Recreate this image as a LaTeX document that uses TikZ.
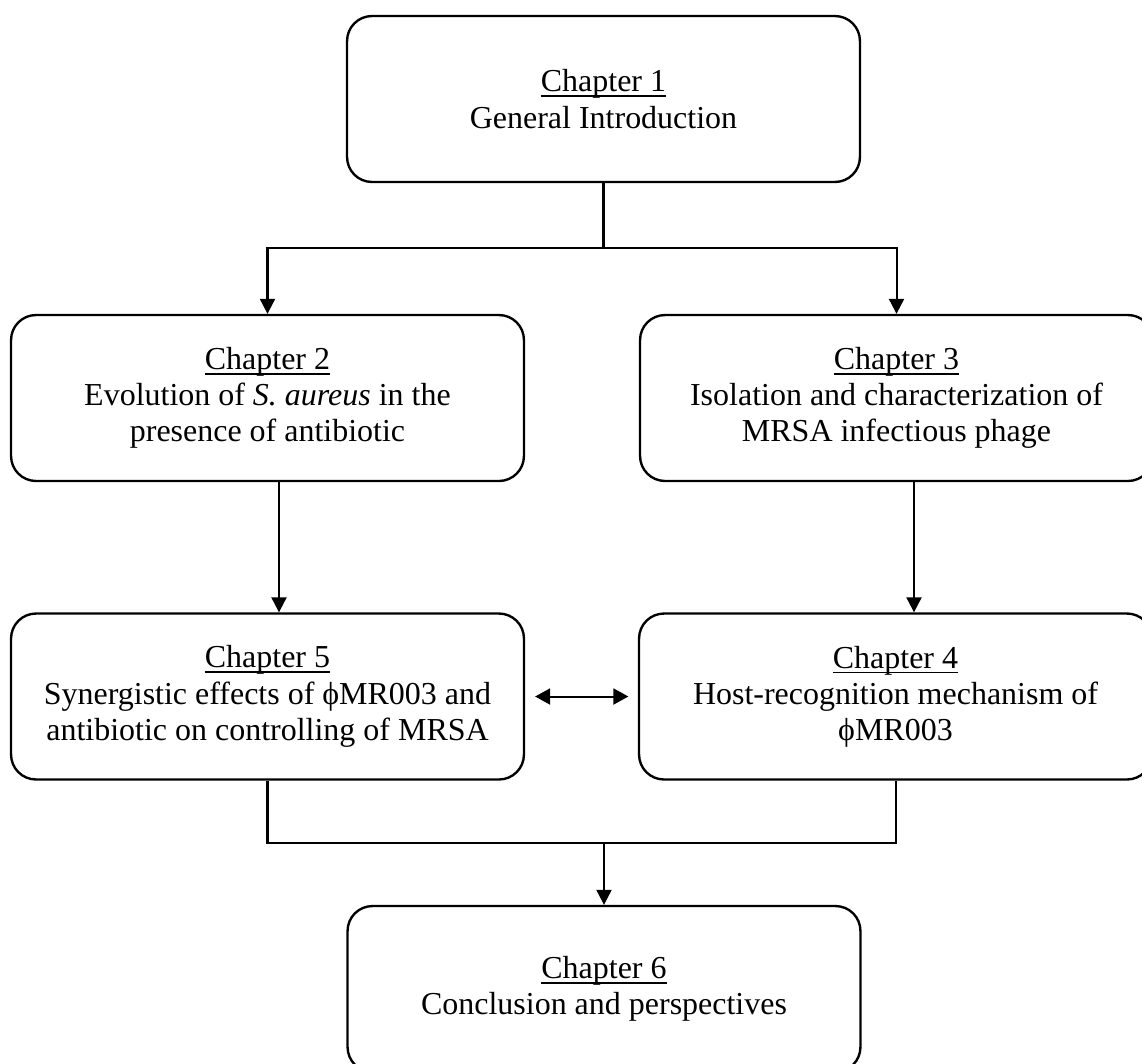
\documentclass[tikz,border=0pt]{standalone}
\usepackage{fontspec}
\setmainfont{Liberation Serif}
\usetikzlibrary{arrows.meta}
\newcommand{\chapline}[1]{\setbox0\hbox{#1}\rlap{\rule[-0.17em]{\wd0}{0.06em}}\box0}
\begin{document}
\begin{tikzpicture}[
    x=0.02cm,y=-0.02cm,
    chapbox/.style={draw,line width=1.35pt,rounded corners=0.5cm,align=center,
        minimum width=10.26cm,minimum height=3.32cm,inner sep=0pt,
        font=\fontsize{18.2}{20.6}\selectfont},
    link/.style={line width=1.15pt},
    arr/.style={link,-{Triangle[length=0.3cm,width=0.3cm]}},
    dblarr/.style={link,{Triangle[length=0.3cm,width=0.32cm]}-{Triangle[length=0.3cm,width=0.32cm]}}
]
\useasboundingbox (0,0) rectangle (1142,1063);
\clip (0,0) rectangle (1142,1063);
\node[chapbox] (ch1) at (603.5,99) {\chapline{Chapter 1}\\General Introduction};
\node[chapbox] (ch2) at (267.5,398) {\chapline{Chapter 2}\\Evolution of \textit{S. aureus} in the\\presence of antibiotic};
\node[chapbox] (ch3) at (896.5,398) {\chapline{Chapter 3}\\Isolation and characterization of\\MRSA infectious phage};
\node[chapbox] (ch5) at (267.5,696.5) {\chapline{Chapter 5}\\Synergistic effects of ϕMR003 and\\antibiotic on controlling of MRSA};
\node[chapbox] (ch4) at (895.5,696.5) {\chapline{Chapter 4}\\Host-recognition mechanism of\\ϕMR003};
\node[chapbox] (ch6) at (604,989) {\chapline{Chapter 6}\\Conclusion and perspectives};
\coordinate (split) at (603.5,248);
\coordinate (merge) at (604,843);
\draw[link] (ch1.south) -- (split);
\draw[arr] (split) -| (ch2.north);
\draw[arr] (split) -| (ch3.north);
\draw[arr] ([xshift=0.23cm]ch2.south) -- ([xshift=0.23cm]ch2.south |- ch5.north);
\draw[arr] ([xshift=0.35cm]ch3.south) -- ([xshift=0.35cm]ch3.south |- ch4.north);
\draw[dblarr,shorten <=0.2cm,shorten >=0.19cm] (ch5.east) -- (ch4.west);
\draw[link] (ch5.south) |- (merge) -| (ch4.south);
\draw[arr] (merge) -- (ch6.north);
\end{tikzpicture}
\end{document}
